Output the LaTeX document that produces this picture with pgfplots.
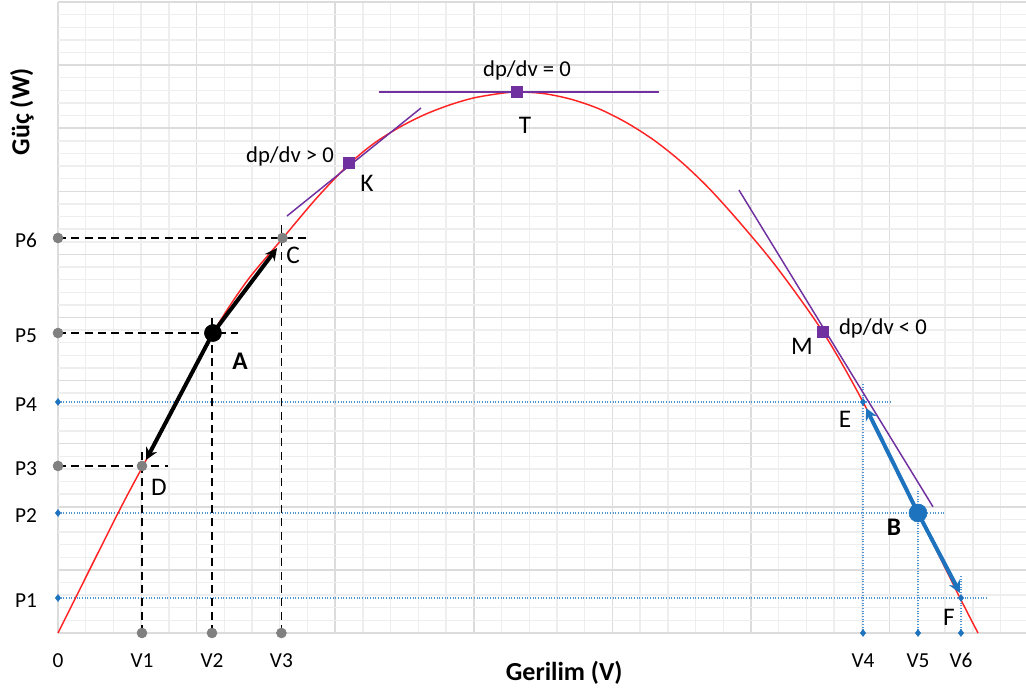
\documentclass[border=0pt]{standalone}
\usepackage{fontspec}
\setmainfont{Carlito}
\usepackage{pgfplots}
\pgfplotsset{compat=1.18}
\usetikzlibrary{arrows.meta}

\definecolor{curvered}{RGB}{255,35,35}
\definecolor{tanpurple}{RGB}{112,48,160}
\definecolor{mppblue}{RGB}{30,115,190}
\definecolor{refblue}{RGB}{80,150,215}
\definecolor{markgray}{RGB}{128,128,128}
\definecolor{majorgrid}{RGB}{220,220,220}
\definecolor{minorgrid}{RGB}{238,238,238}

\newcommand{\labfont}{\fontsize{16}{19}\selectfont}
\newcommand{\notefont}{\fontsize{17}{20}\selectfont}
\newcommand{\ptfont}{\fontsize{19}{22}\selectfont}
\newcommand{\axfont}{\fontsize{19.5}{23}\selectfont}

\begin{document}
\begin{tikzpicture}
\useasboundingbox (-43.5pt,-45pt) rectangle (726pt,474.75pt);
\begin{axis}[
  at={(0,0)}, anchor=south west,
  x=103.95pt, y=47.325pt,
  xmin=0, xmax=6.984, ymin=0, ymax=10,
  xtick={0,...,7}, ytick={0,...,10},
  minor xtick={0.2,0.4,0.6,0.8,1.2,1.4,1.6,1.8,2.2,2.4,2.6,2.8,3.2,3.4,3.6,3.8,
               4.2,4.4,4.6,4.8,5.2,5.4,5.6,5.8,6.2,6.4,6.6,6.8},
  minor ytick={0.2,0.4,0.6,0.8,1.2,1.4,1.6,1.8,2.2,2.4,2.6,2.8,3.2,3.4,3.6,3.8,
               4.2,4.4,4.6,4.8,5.2,5.4,5.6,5.8,6.2,6.4,6.6,6.8,7.2,7.4,7.6,7.8,
               8.2,8.4,8.6,8.8,9.2,9.4,9.6,9.8},
  xticklabels={}, yticklabels={},
  grid=both,
  major grid style={majorgrid, line width=1.1pt},
  minor grid style={minorgrid, line width=1.1pt},
  major tick length=0pt, minor tick length=0pt,
  axis line style={draw=none},
  extra x ticks={0,0.606,1.111,1.612,5.808,6.205,6.515},
  extra x tick labels={0,V1,V2,V3,V4,V5,V6},
  extra y ticks={0.555,1.902,2.647,3.661,4.754,6.26},
  extra y tick labels={P1,P2,P3,P4,P5,P6},
  extra tick style={grid=none, major tick length=0pt},
  tick label style={font=\labfont},
  xticklabel style={anchor=center, yshift=-20.5pt},
  yticklabel style={anchor=center, xshift=-24pt, yshift=-2pt},
  xlabel={Gerilim (V)},
  ylabel={Güç (W)},
  xlabel style={font=\bfseries\axfont, at={(axis description cs:0.523,0)}, anchor=center, yshift=-30pt},
  ylabel style={font=\bfseries\axfont, at={(axis description cs:-0.0372,0.826)}, anchor=center},
  clip=false,
]

% reference levels of the downhill side (blue, dotted)
\addplot[refblue, line width=0.8pt, dash pattern=on 0.8pt off 1.2pt] coordinates {(0,3.661) (6.003,3.661)};
\addplot[refblue, line width=0.8pt, dash pattern=on 0.8pt off 1.2pt] coordinates {(0,1.902) (6.40,1.902)};
\addplot[refblue, line width=0.8pt, dash pattern=on 0.8pt off 1.2pt] coordinates {(0,0.555) (6.70,0.555)};
\addplot[refblue, line width=0.8pt, dash pattern=on 0.8pt off 1.2pt] coordinates {(5.808,0) (5.808,3.96)};
\addplot[refblue, line width=0.8pt, dash pattern=on 0.8pt off 1.2pt] coordinates {(6.205,0) (6.205,2.27)};
\addplot[refblue, line width=0.8pt, dash pattern=on 0.8pt off 1.2pt] coordinates {(6.515,0) (6.515,0.90)};

% reference levels of the uphill side (black, dashed)
\addplot[black, line width=1.1pt, dash pattern=on 6pt off 4pt] coordinates {(0,6.26) (1.797,6.26)};
\addplot[black, line width=1.1pt, dash pattern=on 6pt off 4pt] coordinates {(0,4.754) (1.299,4.754)};
\addplot[black, line width=1.1pt, dash pattern=on 6pt off 4pt] coordinates {(0,2.647) (0.794,2.647)};
\addplot[black, line width=1.1pt, dash pattern=on 6pt off 4pt] coordinates {(1.612,0) (1.612,6.50)};
\addplot[black, line width=1.1pt, dash pattern=on 6pt off 4pt] coordinates {(1.111,0) (1.111,4.99)};
\addplot[black, line width=1.1pt, dash pattern=on 6pt off 4pt] coordinates {(0.606,0) (0.606,2.92)};

% P-V curve
\addplot[curvered, line width=1.1pt, smooth] coordinates {
  (0,0) (0.426,1.87) (0.613,2.647) (0.808,3.45) (1.118,4.754) (1.364,5.58)
  (1.623,6.26) (1.869,6.90) (2.1,7.43) (2.28,7.76) (2.468,8.02) (2.65,8.22)
  (2.828,8.37) (3.0,8.48) (3.189,8.55) (3.312,8.574) (3.5,8.55) (3.7,8.46)
  (3.9,8.31) (4.1,8.09) (4.3,7.81) (4.5,7.46) (4.7,7.04) (4.921,6.50)
  (5.188,5.79) (5.519,4.77) (5.808,3.661) (6.205,1.902) (6.508,0.555) (6.638,0)
};

% tangents at K, T and M
\addplot[tanpurple, line width=1.1pt] coordinates {(1.652,6.608) (2.619,8.320)};
\addplot[tanpurple, line width=1.1pt] coordinates {(2.316,8.574) (4.336,8.574)};
\addplot[tanpurple, line width=1.1pt] coordinates {(4.913,7.02) (6.313,2.00)};

% perturbation steps around A and B
\addplot[black, line width=3pt, -{Stealth[length=9pt, width=9pt]}] coordinates {(1.118,4.754) (1.58,6.10)};
\addplot[black, line width=3pt, -{Stealth[length=9pt, width=9pt]}] coordinates {(1.118,4.754) (0.635,2.742)};
\addplot[mppblue, line width=3pt, -{Stealth[length=9pt, width=9pt]}] coordinates {(6.205,1.902) (5.83,3.566)};
\addplot[mppblue, line width=3pt, -{Stealth[length=9pt, width=9pt]}] coordinates {(6.205,1.902) (6.508,0.634)};

% markers
\addplot[only marks, mark=*, mark size=3.75pt, markgray] coordinates {
  (0,6.26) (0,4.754) (0,2.647) (0.606,0) (1.111,0) (1.612,0) (1.62,6.26) (0.606,2.647)};
\addplot[only marks, mark=diamond*, mark size=2.6pt, mppblue] coordinates {
  (0,3.661) (0,1.902) (0,0.555) (5.808,0) (6.205,0) (6.515,0) (5.808,3.661) (6.515,0.555)};
\addplot[only marks, mark=*, mark size=6.4pt, black] coordinates {(1.118,4.754)};
\addplot[only marks, mark=*, mark size=6.75pt, mppblue] coordinates {(6.205,1.902)};
\addplot[only marks, mark=square*, mark size=4.1pt, tanpurple] coordinates {(2.1,7.448) (3.312,8.574) (5.519,4.77)};

% annotations
\node[font=\notefont] at (axis cs:1.674,7.56) {dp/dv > 0};
\node[font=\notefont] at (axis cs:3.384,8.92) {dp/dv = 0};
\node[font=\notefont] at (axis cs:5.952,4.83) {dp/dv < 0};
\node[font=\ptfont] at (axis cs:2.229,7.13) {K};
\node[font=\ptfont] at (axis cs:3.369,8.05) {T};
\node[font=\ptfont] at (axis cs:5.368,4.55) {M};
\node[font=\ptfont] at (axis cs:5.678,3.39) {E};
\node[font=\ptfont] at (axis cs:6.429,0.25) {F};
\node[font=\ptfont] at (axis cs:1.696,5.99) {C};
\node[font=\ptfont] at (axis cs:0.729,2.31) {D};
\node[font=\ptfont\bfseries] at (axis cs:1.313,4.31) {A};
\node[font=\ptfont\bfseries] at (axis cs:6.032,1.68) {B};
\end{axis}
\end{tikzpicture}
\end{document}
